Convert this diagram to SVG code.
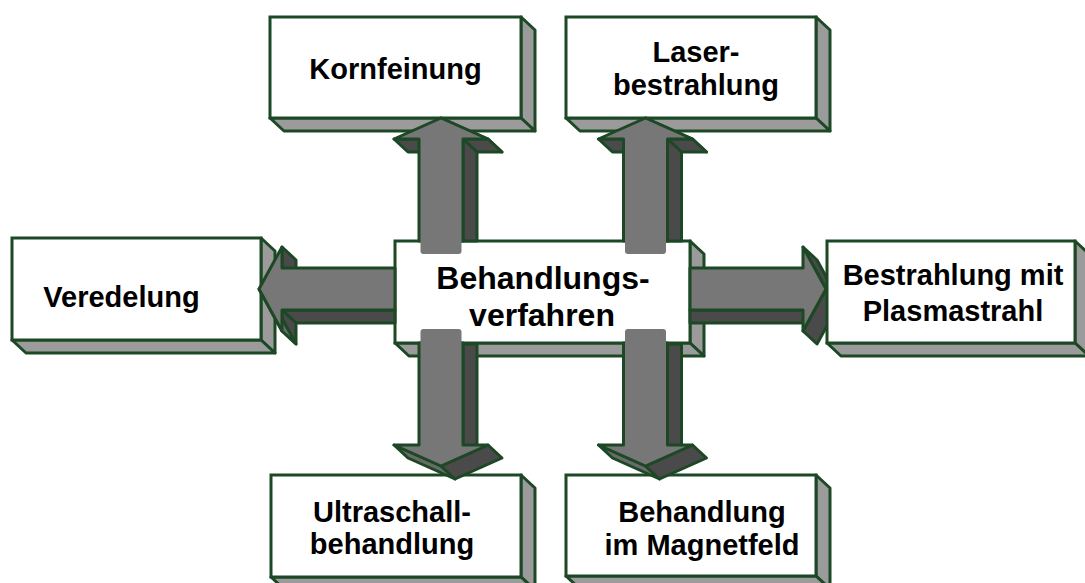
<svg xmlns="http://www.w3.org/2000/svg" width="1085" height="583" viewBox="0 0 1085 583">
<style>
.bf{fill:#ffffff;stroke:#1d4826;stroke-width:3}
.bs{fill:#9b9b9b;stroke:#1d4826;stroke-width:3;stroke-linejoin:round}
.af{fill:#777777;stroke:#1d4826;stroke-width:3;stroke-linejoin:round}
.ad{fill:#4a4a4a;stroke:#1d4826;stroke-width:3;stroke-linejoin:round}
.am{fill:#6a6a6a;stroke:#1d4826;stroke-width:3;stroke-linejoin:round}
.ap{fill:#777777;stroke:none}
text{font-family:"Liberation Sans",Arial,sans-serif;font-weight:bold;font-size:29px;fill:#000;text-anchor:middle}
.big{font-size:32px}
</style>
<rect width="1085" height="583" fill="#ffffff"/>

<g id="node-veredelung">
<polygon class="bs" points="261,238 275,251 275,353 261,340"/>
<polygon class="bs" points="12,340 261,340 275,353 26,353"/>
<rect class="bf" x="12" y="238" width="249" height="102"/>
<text x="121.5" y="307">Veredelung</text>
</g>

<g id="node-kornfeinung">
<polygon class="bs" points="521,17 535,30 535,131 521,118"/>
<polygon class="bs" points="270,118 521,118 535,131 284,131"/>
<rect class="bf" x="270" y="17" width="251" height="101"/>
<text x="395.5" y="79">Kornfeinung</text>
</g>

<g id="node-laser">
<polygon class="bs" points="816,17 830,30 830,131 816,118"/>
<polygon class="bs" points="566,118 816,118 830,131 580,131"/>
<rect class="bf" x="566" y="17" width="250" height="101"/>
<text x="696" y="62">Laser-</text>
<text x="696" y="95">bestrahlung</text>
</g>

<g id="node-ultraschall">
<polygon class="bs" points="521,475 535,488 535,590 521,577"/>
<polygon class="bs" points="271,577 521,577 535,590 285,590"/>
<rect class="bf" x="271" y="475" width="250" height="102"/>
<text x="392" y="522">Ultraschall-</text>
<text x="392" y="554">behandlung</text>
</g>

<g id="node-magnetfeld">
<polygon class="bs" points="816,475 830,488 830,589 816,576"/>
<polygon class="bs" points="566,576 816,576 830,589 580,589"/>
<rect class="bf" x="566" y="475" width="250" height="101"/>
<text x="702" y="522">Behandlung</text>
<text x="702" y="555">im Magnetfeld</text>
</g>

<g id="node-center">
<polygon class="bs" points="690,241 704,254 704,356 690,343"/>
<polygon class="bs" points="395,343 690,343 704,356 409,356"/>
<rect class="bf" x="395" y="241" width="295" height="102"/>
<text class="big" x="543" y="289">Behandlungs-</text>
<text class="big" x="542" y="326">verfahren</text>
</g>

<g id="connectors">
<g id="arrow-kornfeinung">
<polygon class="am" points="441,118 488,139 502,152 455,131"/>
<polygon class="ad" points="463,139 488,139 502,152 477,152"/>
<polygon class="ad" points="463,139 477,152 477,241 463,241"/>
<polygon class="ad" points="394,139 419,139 433,152 408,152"/>
<polygon class="af" points="441,118 488,139 463,139 463,241 419,241 419,139 394,139"/>
<path class="ap" d="M420.5,239 H461.5 V251 Q461.5,254 458.5,254 H423.5 Q420.5,254 420.5,251 Z"/>
</g>
<g id="arrow-laser" transform="translate(204.5,0)">
<polygon class="am" points="441,118 488,139 502,152 455,131"/>
<polygon class="ad" points="463,139 488,139 502,152 477,152"/>
<polygon class="ad" points="463,139 477,152 477,241 463,241"/>
<polygon class="ad" points="394,139 419,139 433,152 408,152"/>
<polygon class="af" points="441,118 488,139 463,139 463,241 419,241 419,139 394,139"/>
<path class="ap" d="M420.5,239 H461.5 V251 Q461.5,254 458.5,254 H423.5 Q420.5,254 420.5,251 Z"/>
</g>
<g id="arrow-ultraschall">
<polygon class="ad" points="463,344 477,344 477,458 463,445"/>
<polygon class="am" points="394,445 441,466 455,479 408,458"/>
<polygon class="ad" points="441,466 488,445 502,458 455,479"/>
<polygon class="af" points="419,343 463,343 463,445 488,445 441,466 394,445 419,445"/>
<path class="ap" d="M420.5,345 V332 Q420.5,329 423.5,329 H458.5 Q461.5,329 461.5,332 V345 Z"/>
</g>
<g id="arrow-magnetfeld" transform="translate(204.5,0)">
<polygon class="ad" points="463,344 477,344 477,458 463,445"/>
<polygon class="am" points="394,445 441,466 455,479 408,458"/>
<polygon class="ad" points="441,466 488,445 502,458 455,479"/>
<polygon class="af" points="419,343 463,343 463,445 488,445 441,466 394,445 419,445"/>
<path class="ap" d="M420.5,345 V332 Q420.5,329 423.5,329 H458.5 Q461.5,329 461.5,332 V345 Z"/>
</g>
<g id="arrow-veredelung">
<polygon class="ad" points="282,247 296,260 296,281 282,268"/>
<polygon class="ad" points="282,310 395,310 395,323 296,323"/>
<polygon class="ad" points="282,310 282,331 296,344 296,323"/>
<polygon class="am" points="259,289 282,331 296,344 273,302"/>
<polygon class="af" points="259,289 282,247 282,268 395,268 395,310 282,310 282,331"/>
</g>
<g id="arrow-plasma">
<polygon class="ad" points="690,310 803,310 817,323 690,323"/>
<polygon class="ad" points="803,247 826,289 840,302 817,260"/>
<polygon class="ad" points="826,289 803,331 817,344 840,302"/>
<polygon class="af" points="690,268 803,268 803,247 826,289 803,331 803,310 690,310"/>
</g>
</g>

<g id="node-plasma">
<polygon class="bs" points="1075,241 1089,254 1089,356 1075,343"/>
<polygon class="bs" points="827,343 1075,343 1089,356 841,356"/>
<rect class="bf" x="827" y="241" width="248" height="102"/>
<text x="953" y="285">Bestrahlung mit</text>
<text x="953" y="321">Plasmastrahl</text>
</g>
</svg>
